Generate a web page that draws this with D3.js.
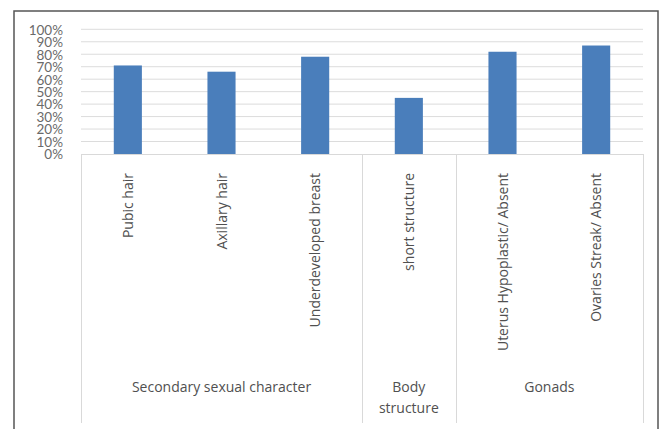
<!DOCTYPE html>
<html>
<head>
<meta charset="utf-8">
<script src="https://cdn.jsdelivr.net/npm/d3@7"></script>
<style>
  html, body { margin: 0; padding: 0; background: #fff; }
  svg { display: block; }
</style>
</head>
<body>
<svg id="chart" width="660" height="429"></svg>
<script>
const categories = ["Pubic hair", "Axillary hair", "Underdeveloped breast", "short structure", "Uterus Hypoplastic/ Absent", "Ovaries Streak/ Absent"];
const groups = ["Secondary sexual character", "Secondary sexual character", "Secondary sexual character", "Body structure", "Gonads", "Gonads"];
const groupLabels = [["Secondary sexual character"], ["Body", "structure"], ["Gonads"]];
const values = [0.71, 0.66, 0.78, 0.45, 0.82, 0.87];
const yTicks = [0, 0.1, 0.2, 0.3, 0.4, 0.5, 0.6, 0.7, 0.8, 0.9, 1.0];

const svg = d3.select("#chart");
const W = 660, H = 429;
const plot = { left: 81, right: 643, top: 29.3, bottom: 154 };
const FONT = "'Open Sans', Lato, sans-serif";

// outer frame
svg.append("path")
  .attr("d", `M14,${H} L14,11 L658,11 L658,${H}`)
  .attr("fill", "none").attr("stroke", "#555").attr("stroke-width", 1.5);

const x = d3.scaleBand().domain(categories).range([plot.left, plot.right]).paddingInner(0.7).paddingOuter(0.35);
const y = d3.scaleLinear().domain([0, 1]).range([plot.bottom, plot.top]);

// gridlines
svg.append("g").selectAll("line").data(yTicks.slice(1)).join("line")
  .attr("x1", plot.left).attr("x2", plot.right)
  .attr("y1", d => y(d)).attr("y2", d => y(d))
  .attr("stroke", "#dcdcdc").attr("stroke-width", 1);

// y axis labels
const yAxis = d3.axisLeft(y).tickValues(yTicks).tickFormat(d3.format(".0%")).tickSize(0).tickPadding(0);
const yg = svg.append("g").attr("transform", `translate(63,0)`).call(yAxis);
yg.select(".domain").remove();
yg.selectAll("text").attr("font-family", "Lato, 'Open Sans', sans-serif").attr("font-size", 13.5).attr("fill", "#6a6a6a").attr("dy", "0.36em");

// bars
svg.append("g").selectAll("rect").data(values).join("rect")
  .attr("x", (d, i) => x(categories[i]))
  .attr("width", x.bandwidth())
  .attr("y", d => y(d))
  .attr("height", d => y(0) - y(d))
  .attr("fill", "#4a7ebb");

// category axis line
const bottomLine = 423;
svg.append("line").attr("x1", plot.left).attr("x2", plot.right).attr("y1", y(0) + 0.5).attr("y2", y(0) + 0.5)
  .attr("stroke", "#d9d9d9").attr("stroke-width", 1);

// group boundaries
const bounds = [0];
for (let i = 1; i < groups.length; i++) if (groups[i] !== groups[i - 1]) bounds.push(i);
bounds.push(groups.length);
const xEdge = i => plot.left + i * (plot.right - plot.left) / categories.length;
svg.append("g").selectAll("line").data(bounds).join("line")
  .attr("x1", d => Math.round(xEdge(d)) + 0.5).attr("x2", d => Math.round(xEdge(d)) + 0.5)
  .attr("y1", y(0)).attr("y2", bottomLine)
  .attr("stroke", "#d9d9d9").attr("stroke-width", 1);

// category labels (rotated)
svg.append("g").selectAll("text").data(categories).join("text")
  .attr("transform", d => `translate(${x(d) + x.bandwidth() / 2 + 5},173) rotate(-90)`)
  .attr("text-anchor", "end")
  .attr("font-family", FONT).attr("font-size", 14).attr("fill", "#505050")
  .text(d => d);

// group labels
groupLabels.forEach((lines, gi) => {
  const a = xEdge(bounds[gi]), b = xEdge(bounds[gi + 1]);
  const t = svg.append("text").attr("text-anchor", "middle")
    .attr("font-family", FONT).attr("font-size", 14).attr("fill", "#505050");
  lines.forEach((ln, li) => {
    t.append("tspan").attr("x", (a + b) / 2).attr("y", 392 + li * 21).text(ln);
  });
});
</script>
</body>
</html>
